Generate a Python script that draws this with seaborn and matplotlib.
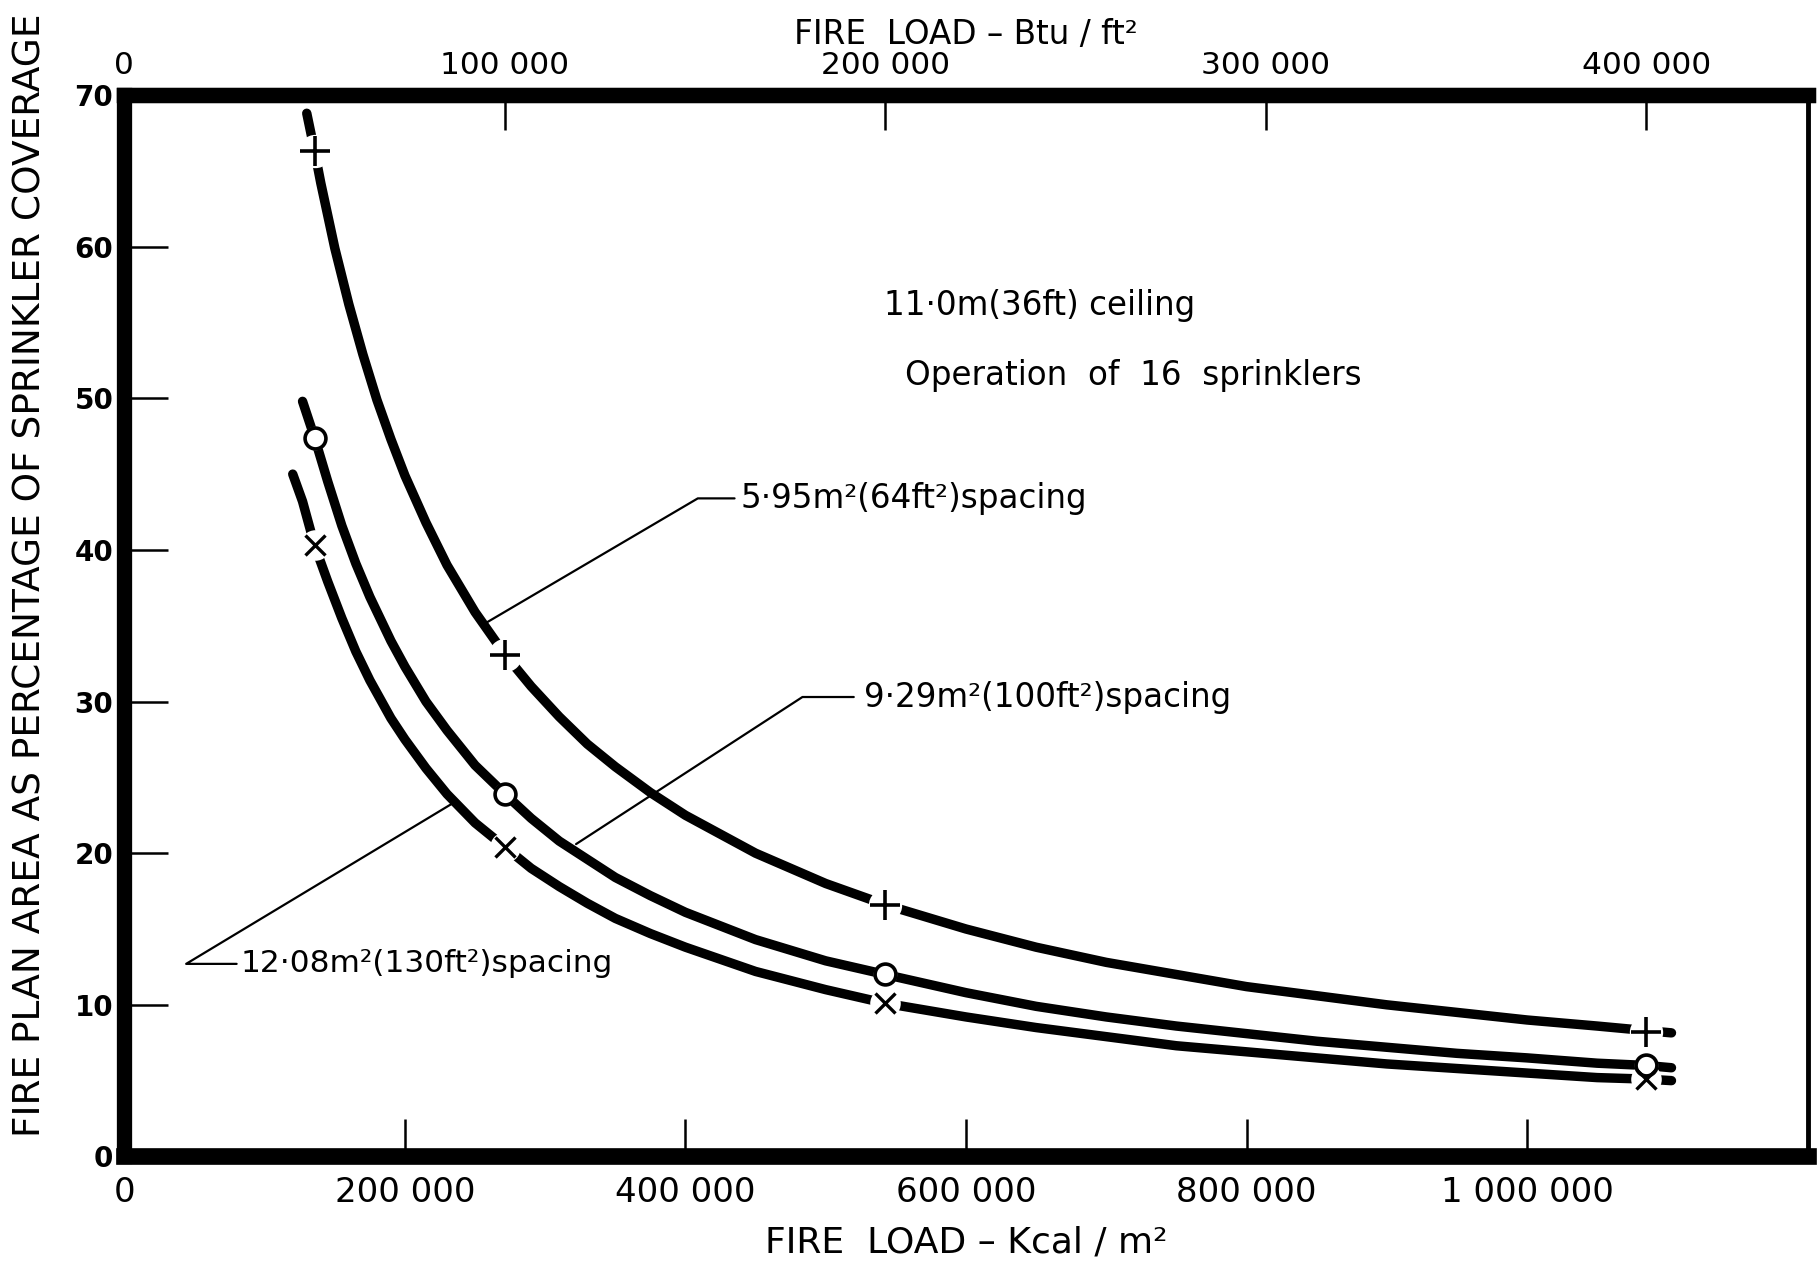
import numpy as np
import pandas as pd
import matplotlib
matplotlib.use("Agg")
import matplotlib.pyplot as plt
import seaborn as sns

# ---------------- data ----------------
# fire load in kcal/m^2 (bottom axis) and fire plan area in %
load_64 = [130000, 135600, 140000, 150000, 160000, 170000, 180000, 190000, 200000, 215000,
           230000, 250000, 271300, 290000, 310000, 330000, 350000, 375000, 400000, 450000,
           500000, 542500, 600000, 650000, 700000, 750000, 800000, 850000, 900000, 950000,
           1000000, 1050000, 1085000, 1103000]
pct_64 = [68.8, 66.3, 64.2, 59.9, 56.2, 52.9, 49.9, 47.3, 44.9, 41.8,
          39.0, 35.9, 33.1, 31.0, 29.0, 27.2, 25.7, 24.0, 22.5, 20.0,
          18.0, 16.6, 15.0, 13.8, 12.8, 12.0, 11.2, 10.6, 10.0, 9.5,
          9.0, 8.6, 8.3, 8.15]

load_100 = [127000, 135600, 145000, 155000, 165000, 175000, 190000, 200000, 215000, 230000,
            250000, 271300, 290000, 310000, 330000, 350000, 375000, 400000, 450000, 500000,
            542500, 600000, 650000, 700000, 750000, 800000, 850000, 900000, 950000, 1000000,
            1050000, 1085000, 1103000]
pct_100 = [49.8, 47.4, 44.5, 41.6, 39.1, 36.9, 34.0, 32.3, 30.0, 28.1,
           25.8, 23.9, 22.3, 20.8, 19.6, 18.4, 17.2, 16.1, 14.3, 12.9,
           12.0, 10.8, 9.9, 9.2, 8.6, 8.1, 7.6, 7.2, 6.8, 6.5,
           6.15, 6.0, 5.85]

load_130 = [120000, 127000, 135600, 145000, 155000, 165000, 175000, 190000, 200000, 215000,
            230000, 250000, 271300, 290000, 310000, 330000, 350000, 375000, 400000, 450000,
            500000, 542500, 600000, 650000, 700000, 750000, 800000, 850000, 900000, 950000,
            1000000, 1050000, 1085000, 1103000]
pct_130 = [45.0, 43.2, 40.3, 37.9, 35.5, 33.3, 31.4, 28.9, 27.5, 25.6,
           23.9, 22.0, 20.4, 19.0, 17.8, 16.7, 15.7, 14.7, 13.8, 12.2,
           11.0, 10.1, 9.2, 8.5, 7.9, 7.3, 6.9, 6.5, 6.1, 5.8,
           5.5, 5.2, 5.1, 5.0]

# test points (markers)
mark_load = [135600, 271300, 542500, 1085000]
mark_64 = [66.3, 33.1, 16.6, 8.2]
mark_100 = [47.4, 23.9, 12.0, 6.0]
mark_130 = [40.3, 20.4, 10.1, 5.1]

series_names = ["5·95m²(64ft²)spacing", "9·29m²(100ft²)spacing", "12·08m²(130ft²)spacing"]

x_ticks = [0, 200000, 400000, 600000, 800000, 1000000]
x_ticklabels = ["0", "200 000", "400 000", "600 000", "800 000", "1 000 000"]
top_ticks = [0, 100000, 200000, 300000, 400000]
top_ticklabels = ["0", "100 000", "200 000", "300 000", "400 000"]
y_ticks = [0, 10, 20, 30, 40, 50, 60, 70]
y_ticklabels = ["0", "10", "20", "30", "40", "50", "60", "70"]

KCAL_PER_BTU = 2.7125  # 1 Btu/ft^2 = 2.7125 kcal/m^2

# ---------------- figure ----------------
sns.set_theme(style="white")
plt.rcParams["font.family"] = ["DejaVu Sans"]
plt.rcParams["text.color"] = "black"
plt.rcParams["axes.labelcolor"] = "black"
plt.rcParams["xtick.color"] = "black"
plt.rcParams["ytick.color"] = "black"

fig = plt.figure(figsize=(18.19, 12.76), dpi=100)
ax = fig.add_axes([0.0684, 0.0937, 0.9937 - 0.0684, 0.9255 - 0.0937])

df = pd.concat([
    pd.DataFrame({"load": load_64, "pct": pct_64, "spacing": series_names[0]}),
    pd.DataFrame({"load": load_100, "pct": pct_100, "spacing": series_names[1]}),
    pd.DataFrame({"load": load_130, "pct": pct_130, "spacing": series_names[2]}),
])

sns.lineplot(data=df, x="load", y="pct", hue="spacing", palette=["black"] * 3,
             estimator=None, sort=False, linewidth=6.8, legend=False, ax=ax,
             solid_capstyle="round", solid_joinstyle="round", zorder=2)

# gaps in the curves around the test points
ax.plot(mark_load, mark_64, "o", ms=24, mfc="white", mec="none", zorder=3)
ax.plot(mark_load, mark_130, "o", ms=22, mfc="white", mec="none", zorder=3)
ax.plot(mark_load, mark_100, "o", ms=17, mfc="white", mec="none", zorder=3)

# markers
ax.plot(mark_load, mark_64, "+", ms=21, mew=2.6, color="black", zorder=4)
ax.plot(mark_load, mark_100, "o", ms=15, mfc="white", mec="black", mew=2.6, zorder=4)
ax.plot(mark_load, mark_130, "x", ms=15, mew=2.4, color="black", zorder=4)

# leader lines for labels
lw_lead = 1.6
ax.plot([435000, 408800, 258000], [43.4, 43.4, 35.2], color="black", lw=lw_lead, zorder=2)
ax.plot([520000, 483400, 322000], [30.3, 30.3, 20.6], color="black", lw=lw_lead, zorder=2)
ax.plot([80000, 44000, 236000], [12.7, 12.7, 23.4], color="black", lw=lw_lead, zorder=2)

fs_text = 23.5
ax.text(439500, 43.4, series_names[0], fontsize=fs_text, va="center", ha="left")
ax.text(527400, 30.3, series_names[1], fontsize=fs_text, va="center", ha="left")
ax.text(83000, 12.7, series_names[2], fontsize=22.5, va="center", ha="left")
ax.text(541500, 56.1, "11·0m(36ft) ceiling", fontsize=fs_text, va="center", ha="left")
ax.text(556400, 51.5, "Operation  of  16  sprinklers", fontsize=fs_text, va="center", ha="left")

# axes limits / ticks
ax.set_xlim(0, 1200000)
ax.set_ylim(0, 70)
ax.set_xticks(x_ticks)
ax.set_xticklabels(x_ticklabels)
ax.set_yticks(y_ticks)
ax.set_yticklabels(y_ticklabels)
for t in ax.get_yticklabels():
    t.set_fontweight("bold")

ax.tick_params(axis="x", which="both", direction="in", length=27, width=1.8,
               pad=14, labelsize=24.5, colors="black", bottom=True, top=False)
ax.tick_params(axis="y", which="both", direction="in", length=32, width=1.8,
               pad=8, labelsize=20, colors="black", left=True, right=False)

ax.set_xlabel("FIRE  LOAD – Kcal / m²", fontsize=26, labelpad=12)
ax.set_ylabel("FIRE PLAN AREA AS PERCENTAGE OF SPRINKLER COVERAGE", fontsize=27)
ax.yaxis.set_label_coords(-0.045, 0.548)

# spines
for side, lw in {"left": 11, "top": 11, "bottom": 12, "right": 3.5}.items():
    ax.spines[side].set_visible(True)
    ax.spines[side].set_color("black")
    ax.spines[side].set_linewidth(lw)
ax.grid(False)

# top axis in Btu/ft^2
secax = ax.secondary_xaxis("top", functions=(lambda x: np.asarray(x) / KCAL_PER_BTU,
                                              lambda x: np.asarray(x) * KCAL_PER_BTU))
secax.set_xticks(top_ticks)
secax.set_xticklabels(top_ticklabels)
secax.tick_params(axis="x", direction="in", length=25, width=1.8, pad=11,
                  labelsize=22.5, colors="black")
secax.spines["top"].set_linewidth(11)
secax.spines["top"].set_color("black")
secax.set_xlabel("FIRE  LOAD – Btu / ft²", fontsize=23.5, labelpad=5)

fig.savefig("out.png", dpi=100, facecolor="white")
